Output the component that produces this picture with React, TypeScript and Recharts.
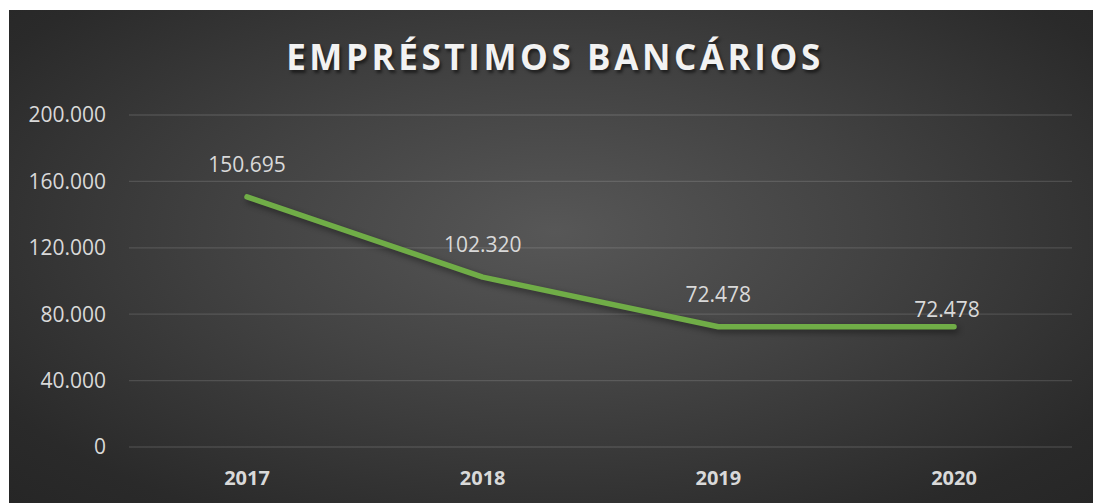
import React from "react";
import {
    CartesianGrid,
    LabelList,
    Line,
    LineChart,
    XAxis,
    YAxis,
} from "recharts";

const years = ["2017", "2018", "2019", "2020"];
const loans = [150695, 102320, 72478, 72478];
const yTicks = [0, 40000, 80000, 120000, 160000, 200000];

const data = years.map((year, i) => ({ year, loans: loans[i] }));

const fmt = (v: number) =>
    String(Math.round(v)).replace(/\B(?=(\d{3})+(?!\d))/g, ".");

const FONT = '"Open Sans", "Liberation Sans", sans-serif';

const PointLabel = (props: any) => {
    const { x, y, value, index } = props;
    // excel nudged the last label down/left
    const last = index === loans.length - 1;
    return (
        <text
            x={x + (last ? -7 : 0)}
            y={y - (last ? 10 : 25)}
            textAnchor="middle"
            fill="#d9d9d9"
            fontSize={21}
            fontFamily={FONT}
        >
            {fmt(value)}
        </text>
    );
};

const App = () => {
    return (
        <div
            style={{
                position: "relative",
                marginLeft: 1,
                marginTop: 2,
                width: 1092,
                height: 493,
                background:
                    "radial-gradient(ellipse farthest-corner at 50% 45%, #575757 0%, #434343 40%, #2a2a2a 85%, #262626 100%)",
                fontFamily: FONT,
            }}
        >
            <style>{`.recharts-line-curve { filter: drop-shadow(2px 3px 3px rgba(0,0,0,0.45)); }`}</style>
            <div
                style={{
                    position: "absolute",
                    left: 0,
                    right: 0,
                    top: 23,
                    textAlign: "center",
                    color: "#f2f2f2",
                    fontSize: 35,
                    fontWeight: 700,
                    letterSpacing: 3.6,
                    lineHeight: "48px",
                    textShadow: "2px 3px 3px rgba(0,0,0,0.5)",
                }}
            >
                EMPRÉSTIMOS BANCÁRIOS
            </div>
            <LineChart
                width={1092}
                height={493}
                data={data}
                margin={{ top: 105, right: 29, left: 0, bottom: 0 }}
            >
                <CartesianGrid
                    vertical={false}
                    stroke="rgba(255,255,255,0.13)"
                    strokeWidth={1.3}
                />
                <XAxis
                    dataKey="year"
                    height={56}
                    axisLine={false}
                    tickLine={false}
                    tickSize={0}
                    tickMargin={24}
                    padding={{ left: 118, right: 118 }}
                    tick={{
                        fill: "#d9d9d9",
                        fontSize: 20,
                        fontWeight: 700,
                        fontFamily: FONT,
                    }}
                />
                <YAxis
                    width={120}
                    domain={[0, 200000]}
                    ticks={yTicks}
                    interval={0}
                    axisLine={false}
                    tickLine={false}
                    tickSize={0}
                    tickMargin={23}
                    tickFormatter={fmt}
                    tick={{ fill: "#d9d9d9", fontSize: 21, fontFamily: FONT }}
                />
                <Line
                    type="linear"
                    dataKey="loans"
                    stroke="#70ad47"
                    strokeWidth={5.5}
                    strokeLinecap="round"
                    strokeLinejoin="round"
                    dot={false}
                    activeDot={false}
                    isAnimationActive={false}
                >
                    <LabelList dataKey="loans" content={PointLabel} />
                </Line>
            </LineChart>
        </div>
    );
};

export default App;
